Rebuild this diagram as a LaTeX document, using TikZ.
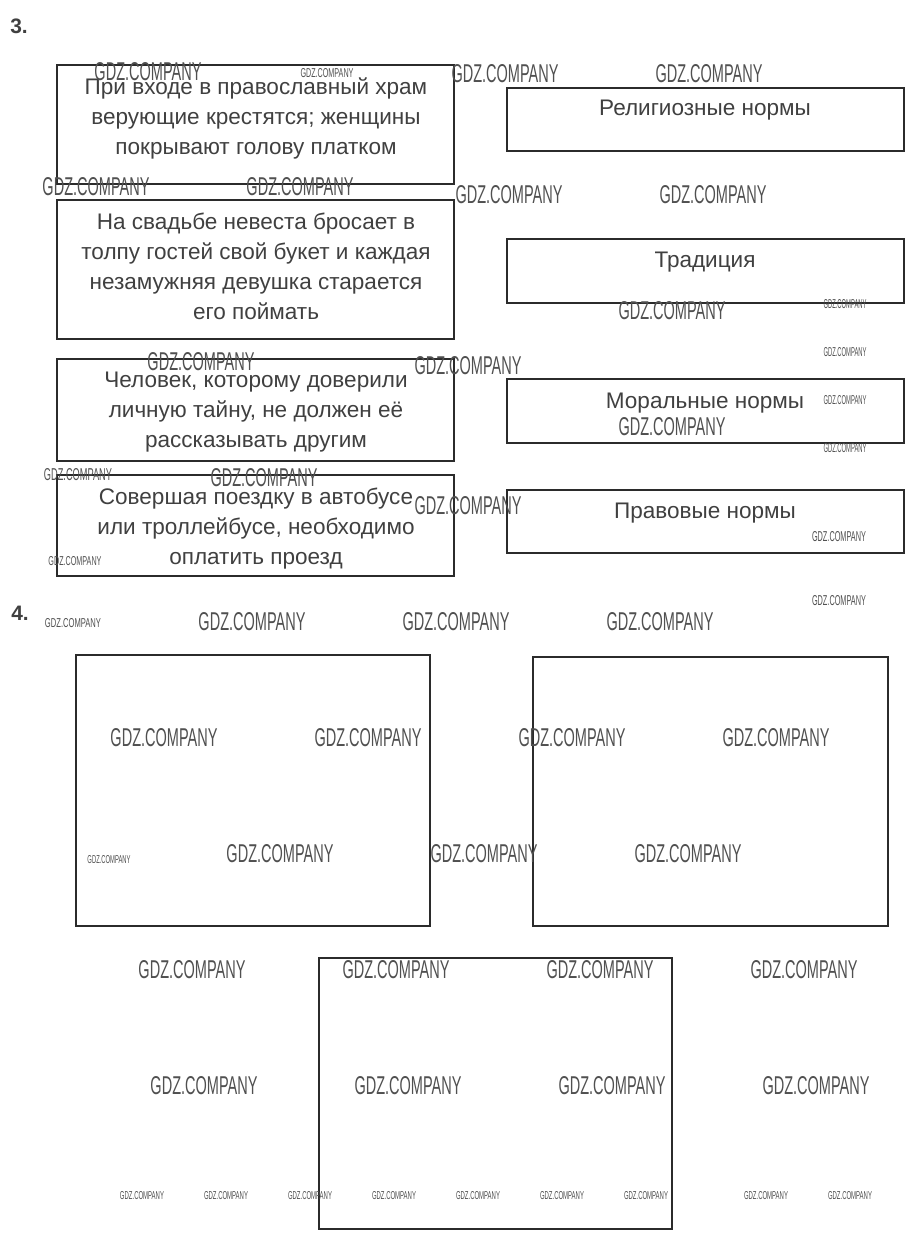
\documentclass[tikz,border=0pt]{standalone}
\usepackage{fontspec}
\setmainfont{Liberation Sans}
\usepackage{graphicx}
\usetikzlibrary{fit}
\definecolor{boxline}{HTML}{2B2B2B}
\definecolor{txt}{HTML}{404040}
\definecolor{wmcol}{HTML}{505050}
\newlength\wmu
\setlength\wmu{0.75pt}
\newcommand{\wmk}[2]{\resizebox{#1\wmu}{#2\wmu}{GDZ.COMPANY}}
\begin{document}
\begin{tikzpicture}[x=0.75pt,y=-0.75pt,
  frame/.style={draw=boxline, line width=1.5pt, inner sep=0pt},
  stmt/.style={font=\fontsize{16.9}{22.5}\selectfont, text=txt, align=center, inner sep=0pt},
  kind/.style={font=\fontsize{16.9}{22.5}\selectfont, text=txt, inner sep=0pt, anchor=base},
  num/.style={font=\fontsize{15.7}{18}\selectfont\bfseries, text=txt, inner sep=0pt, anchor=base west},
  wm/.style={inner sep=0pt, text=wmcol}]
\fill[white] (0,0) rectangle (916,1247);
\useasboundingbox (0,0) rectangle (916,1247);

% task numbers
\node[num] (n3) at (10,33) {3.};
\node[num] (n4) at (11,620) {4.};

% left boxes
\node[frame, fit={(57,65) (454,184)}] (l1) {};
\node[frame, fit={(57,200) (454,339)}] (l2) {};
\node[frame, fit={(57,359) (454,461)}] (l3) {};
\node[frame, fit={(57,475) (454,576)}] (l4) {};

% right boxes
\node[frame, fit={(507,88) (904,151)}] (r1) {};
\node[frame, fit={(507,239) (904,303)}] (r2) {};
\node[frame, fit={(507,379) (904,443)}] (r3) {};
\node[frame, fit={(507,490) (904,553)}] (r4) {};

% task 4 boxes
\node[frame, fit={(76,655) (430,926)}] (a) {};
\node[frame, fit={(533,657) (888,926)}] (b) {};
\node[frame, fit={(319,958) (672,1229)}] (c) {};

% statements
\node[stmt, anchor=north] (t1) at (256,77.5) {При входе в православный храм\\верующие крестятся; женщины\\покрывают голову платком};
\node[stmt, anchor=north] (t2) at (256,212.5) {На свадьбе невеста бросает в\\толпу гостей свой букет и каждая\\незамужняя девушка старается\\его поймать};
\node[stmt, anchor=north] (t3) at (256,372) {Человек, которому доверили\\личную тайну, не должен её\\рассказывать другим};
\node[stmt, anchor=north] (t4) at (256,487.5) {Совершая поездку в автобусе\\или троллейбусе, необходимо\\оплатить проезд};

% kinds of norms
\node[kind] (k1) at (705,115) {Религиозные нормы};
\node[kind] (k2) at (705,267) {Традиция};
\node[kind] (k3) at (705,408) {Моральные нормы};
\node[kind] (k4) at (705,518) {Правовые нормы};

% watermarks (large)
\foreach \x/\y [count=\i] in {148/72, 505/74, 709/74, 96/187, 300/187, 509/195, 713/195,
  672/311, 201/362, 468/366, 672/427, 264/478, 468/506,
  252/622, 456/622, 660/622,
  164/738, 368/738, 572/738, 776/738,
  280/854, 484/854, 688/854,
  192/970, 396/970, 600/970, 804/970,
  204/1086, 408/1086, 612/1086, 816/1086}
  \node[wm] (wl\i) at (\x,\y) {\wmk{107}{18}};

% watermarks (medium and small)
\node[wm] (wm1) at (78,475) {\wmk{68}{12}};
\node[wm] (wm2) at (327,73) {\wmk{53}{9}};
\node[wm] (wm3) at (75,561) {\wmk{53}{9}};
\node[wm] (wm4) at (73,623) {\wmk{56}{9}};
\node[wm] (wm5) at (839,537) {\wmk{54}{10}};
\node[wm] (wm6) at (839,601) {\wmk{54}{10}};
\foreach \y [count=\i] in {304,352,400,448}
  \node[wm] (ws\i) at (845,\y) {\wmk{43}{9}};
\node[wm] (wt0) at (109,860) {\wmk{43}{8}};
\foreach \x [count=\i] in {142,226,310,394,478,562,646,766,850}
  \node[wm] (wt\i) at (\x,1196) {\wmk{44}{8}};
\end{tikzpicture}
\end{document}
